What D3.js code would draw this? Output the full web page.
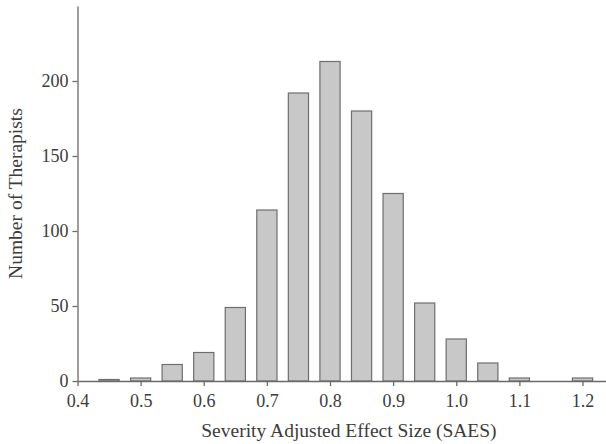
<!DOCTYPE html>
<html>
<head>
<meta charset="utf-8">
<script src="https://cdn.jsdelivr.net/npm/d3@7"></script>
<style>
  html, body { margin: 0; padding: 0; background: #fff; }
  svg { display: block; }
  text { font-family: "Liberation Serif", "Times New Roman", serif; fill: #3c3c3c; }
</style>
</head>
<body>
<svg id="chart" width="606" height="444"></svg>
<script>
// Bin centers (SAES) and counts of therapists
const binCenters = [0.45, 0.50, 0.55, 0.60, 0.65, 0.70, 0.75, 0.80, 0.85, 0.90, 0.95, 1.00, 1.05, 1.10, 1.15, 1.20];
const counts     = [1,    2,    11,   19,   49,   114,  192,  213,  180,  125,  52,   28,   12,   2,    0,    2];
const xTicks = [0.4, 0.5, 0.6, 0.7, 0.8, 0.9, 1.0, 1.1, 1.2];
const yTicks = [0, 50, 100, 150, 200];
const xTitle = "Severity Adjusted Effect Size (SAES)";
const yTitle = "Number of Therapists";

const svg = d3.select("#chart");
const x0 = 77.5, x1 = 606, y0 = 381, y1 = 6;
const pxPerUnit = 631.25;
const x = d3.scaleLinear().domain([0.4, 0.4 + (x1 - x0) / pxPerUnit]).range([x0, x1]);
const y = d3.scaleLinear().domain([0, 250]).range([y0, y1]);
const halfW = 0.016;

svg.append("g").selectAll("rect")
  .data(binCenters.map((c, i) => ({ c, v: counts[i] })).filter(d => d.v > 0))
  .join("rect")
  .attr("x", d => x(d.c - halfW))
  .attr("width", d => x(d.c + halfW) - x(d.c - halfW))
  .attr("y", d => y(d.v))
  .attr("height", d => y(0) - y(d.v))
  .attr("fill", "#c8c8c8")
  .attr("stroke", "#6e6e6e")
  .attr("stroke-width", 1.2);

const xAxis = svg.append("g")
  .attr("transform", `translate(0,${y0})`)
  .call(d3.axisBottom(x).tickValues(xTicks).tickFormat(d3.format(".1f")).tickSize(5).tickSizeOuter(0).tickPadding(8));
const yAxis = svg.append("g")
  .attr("transform", `translate(${x0},0)`)
  .call(d3.axisLeft(y).tickValues(yTicks).tickSize(5).tickSizeOuter(0).tickPadding(4));

[xAxis, yAxis].forEach(g => {
  g.attr("font-size", 18).attr("font-family", "Liberation Serif, serif");
  g.select(".domain").attr("stroke", "#6a6a6a").attr("stroke-width", 1.3);
  g.selectAll(".tick line").attr("stroke", "#6a6a6a").attr("stroke-width", 1.3);
  g.selectAll(".tick text").attr("fill", "#3c3c3c");
});

svg.append("text")
  .attr("x", x(0.83))
  .attr("y", 437)
  .attr("text-anchor", "middle")
  .attr("font-size", 19.5)
  .text(xTitle);

svg.append("text")
  .attr("transform", `translate(22,${(y(0) + y(250)) / 2}) rotate(-90)`)
  .attr("text-anchor", "middle")
  .attr("font-size", 19.5)
  .text(yTitle);
</script>
</body>
</html>
